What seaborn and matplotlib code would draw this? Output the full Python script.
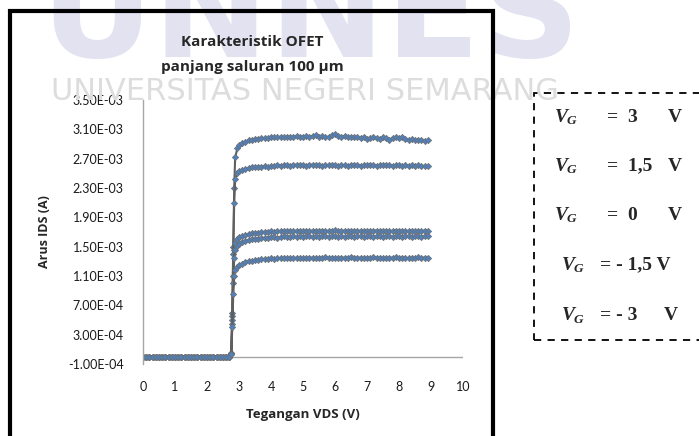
import numpy as np
import pandas as pd
import seaborn as sns
import matplotlib.pyplot as plt
from matplotlib.patches import Rectangle

# VDS grid (V)
x_off = [0.0, 0.1, 0.2, 0.3, 0.4, 0.5, 0.6, 0.7, 0.8, 0.9, 1.0, 1.1, 1.2, 1.3,
         1.4, 1.5, 1.6, 1.7, 1.8, 1.9, 2.0, 2.1, 2.2, 2.3, 2.4, 2.5, 2.6, 2.7]
x_rise = [2.76, 2.79, 2.82, 2.85, 2.88]
x_sat = [2.95, 3.0, 3.1, 3.2, 3.3, 3.4, 3.5, 3.6, 3.7, 3.8, 3.9,
         4.0, 4.1, 4.2, 4.3, 4.4, 4.5, 4.6, 4.7, 4.8, 4.9,
         5.0, 5.1, 5.2, 5.3, 5.4, 5.5, 5.6, 5.7, 5.8, 5.9,
         6.0, 6.1, 6.2, 6.3, 6.4, 6.5, 6.6, 6.7, 6.8, 6.9,
         7.0, 7.1, 7.2, 7.3, 7.4, 7.5, 7.6, 7.7, 7.8, 7.9,
         8.0, 8.1, 8.2, 8.3, 8.4, 8.5, 8.6, 8.7, 8.8, 8.9]

# IDS in mA
ids_off = [0.0] * len(x_off)

rise_vg3 = [0.05, 0.6, 1.5, 2.3, 2.72]
sat_vg3 = [2.84, 2.88, 2.91, 2.93, 2.95, 2.96, 2.97, 2.97, 2.98, 2.98, 2.98,
           2.99, 2.99, 2.99, 3.00, 2.99, 3.00, 3.00, 3.00, 3.01, 3.00,
           3.00, 3.01, 3.00, 3.01, 3.02, 3.00, 3.01, 2.99, 3.00, 3.02,
           3.03, 3.01, 3.00, 3.01, 3.00, 2.99, 3.00, 2.99, 2.98, 2.99,
           2.97, 2.98, 2.99, 2.98, 2.97, 2.99, 2.98, 2.96, 2.98, 2.99,
           2.98, 2.99, 2.97, 2.96, 2.97, 2.96, 2.95, 2.96, 2.94, 2.95]

rise_vg15 = [0.05, 0.55, 1.4, 2.1, 2.42]
sat_vg15 = [2.50, 2.53, 2.55, 2.56, 2.57, 2.58, 2.58, 2.59, 2.59, 2.60, 2.59,
            2.60, 2.60, 2.61, 2.60, 2.61, 2.61, 2.60, 2.61, 2.62, 2.61,
            2.61, 2.60, 2.61, 2.62, 2.61, 2.61, 2.60, 2.61, 2.61, 2.62,
            2.61, 2.60, 2.61, 2.61, 2.60, 2.61, 2.62, 2.61, 2.60, 2.61,
            2.61, 2.62, 2.61, 2.60, 2.61, 2.62, 2.61, 2.61, 2.60, 2.61,
            2.61, 2.60, 2.61, 2.60, 2.61, 2.60, 2.61, 2.60, 2.60, 2.60]

rise_vg0 = [0.04, 0.5, 1.1, 1.45, 1.55]
sat_vg0 = [1.60, 1.63, 1.65, 1.66, 1.67, 1.68, 1.69, 1.69, 1.70, 1.70, 1.70,
           1.71, 1.70, 1.71, 1.71, 1.71, 1.72, 1.71, 1.71, 1.72, 1.71,
           1.71, 1.72, 1.71, 1.72, 1.71, 1.71, 1.72, 1.72, 1.71, 1.72,
           1.73, 1.72, 1.71, 1.72, 1.71, 1.72, 1.72, 1.71, 1.72, 1.71,
           1.72, 1.71, 1.72, 1.72, 1.71, 1.72, 1.71, 1.72, 1.71, 1.72,
           1.72, 1.71, 1.72, 1.71, 1.72, 1.71, 1.72, 1.71, 1.72, 1.72]

rise_vgm15 = [0.04, 0.45, 1.0, 1.35, 1.46]
sat_vgm15 = [1.51, 1.54, 1.57, 1.58, 1.59, 1.60, 1.61, 1.61, 1.62, 1.62, 1.62,
             1.63, 1.63, 1.62, 1.63, 1.64, 1.63, 1.63, 1.64, 1.63, 1.64,
             1.63, 1.64, 1.64, 1.63, 1.64, 1.63, 1.64, 1.64, 1.63, 1.64,
             1.64, 1.63, 1.64, 1.63, 1.64, 1.64, 1.63, 1.64, 1.64, 1.63,
             1.64, 1.64, 1.63, 1.64, 1.64, 1.63, 1.64, 1.64, 1.63, 1.64,
             1.64, 1.63, 1.64, 1.64, 1.63, 1.64, 1.64, 1.63, 1.64, 1.64]

rise_vgm3 = [0.03, 0.4, 0.85, 1.1, 1.18]
sat_vgm3 = [1.22, 1.25, 1.27, 1.29, 1.30, 1.31, 1.32, 1.32, 1.33, 1.33, 1.33,
            1.34, 1.33, 1.34, 1.34, 1.34, 1.35, 1.34, 1.34, 1.35, 1.34,
            1.35, 1.34, 1.35, 1.35, 1.34, 1.35, 1.35, 1.36, 1.35, 1.35,
            1.35, 1.34, 1.35, 1.35, 1.35, 1.36, 1.35, 1.35, 1.35, 1.34,
            1.35, 1.35, 1.36, 1.35, 1.35, 1.35, 1.34, 1.35, 1.35, 1.36,
            1.35, 1.35, 1.35, 1.34, 1.35, 1.35, 1.36, 1.35, 1.35, 1.35]

curves = {
    '3': (rise_vg3, sat_vg3),
    '1,5': (rise_vg15, sat_vg15),
    '0': (rise_vg0, sat_vg0),
    '-1,5': (rise_vgm15, sat_vgm15),
    '-3': (rise_vgm3, sat_vgm3),
}

yticks = [-1.0e-4, 3.0e-4, 7.0e-4, 1.1e-3, 1.5e-3, 1.9e-3, 2.3e-3, 2.7e-3, 3.1e-3, 3.5e-3]
xticks = [0, 1, 2, 3, 4, 5, 6, 7, 8, 9, 10]

legend_rows = [('3', '=  3', 'V'), ('1,5', '=  1,5', 'V'), ('0', '=  0', 'V'),
               ('-1,5', '= - 1,5 V', ''), ('-3', '= - 3', 'V')]

vds = x_off + x_rise + x_sat
frames = []
for vg, (rise, sat) in curves.items():
    ids = ids_off + rise + sat
    frames.append(pd.DataFrame({'VDS': vds, 'IDS': np.array(ids) * 1e-3, 'VG': vg}))
df = pd.concat(frames, ignore_index=True)

sns.set_theme(style='white')
plt.rcParams['font.family'] = ['Lato', 'DejaVu Sans']
bold_font = ['Open Sans', 'DejaVu Sans']

W, H = 699, 436
fig = plt.figure(figsize=(W / 100, H / 100), dpi=100)

def fx(px):
    return px / W

def fy(py):
    return 1 - py / H

# faint watermark in the background
fig.text(fx(310), fy(57), 'UNNES', fontsize=100, fontweight='bold', color='#e2e2f1',
         ha='center', va='baseline', family='DejaVu Sans', zorder=0)
fig.text(fx(305), fy(100), 'UNIVERSITAS NEGERI SEMARANG', fontsize=22, color='#dddddd',
         ha='center', va='baseline', family='DejaVu Sans', zorder=0)

ax = fig.add_axes([fx(143), fy(364), fx(463) - fx(143), fy(100) - fy(364)])
ax.patch.set_alpha(0)

for vg in curves:
    sub = df[df['VG'] == vg]
    sns.lineplot(data=sub, x='VDS', y='IDS', ax=ax, color='#5f5f5f', linewidth=1.5,
                 marker='D', markersize=3.2, markerfacecolor='#4f81bd',
                 markeredgecolor='#6d6d6d', markeredgewidth=0.5, sort=False, legend=False)

ax.axhline(0, xmin=0, xmax=1, color='#a6a6a6', linewidth=1, zorder=0)
ax.set_xlim(0, 10)
ax.set_ylim(-1.0e-4, 3.5e-3)
ax.set_xticks(xticks)
ax.set_yticks(yticks)
ax.set_yticklabels(['%.2E' % v for v in yticks])
ax.tick_params(length=0, labelsize=9, colors='#1a1a1a')
ax.tick_params(axis='x', pad=12)
ax.tick_params(axis='y', pad=14)
for s in ['top', 'right', 'bottom']:
    ax.spines[s].set_visible(False)
ax.spines['left'].set_color('#a6a6a6')
ax.spines['left'].set_linewidth(1)
ax.set_xlabel('Tegangan VDS (V)', fontsize=9.5, fontweight='bold', labelpad=11,
              family=bold_font)
ax.set_ylabel('Arus IDS (A)', fontsize=9, fontweight='bold', labelpad=12,
              family=bold_font)

fig.text(fx(252), fy(42), 'Karakteristik OFET', fontsize=11, fontweight='bold',
         ha='center', va='center', family=bold_font)
fig.text(fx(252), fy(67), 'panjang saluran 100 µm', fontsize=11, fontweight='bold',
         ha='center', va='center', family=bold_font)

# outer chart frame
fig.patches.append(Rectangle((fx(10), -0.1), fx(493) - fx(10), fy(11) + 0.1,
                             transform=fig.transFigure, fill=False, edgecolor='black',
                             linewidth=3, zorder=5))

# legend box with V_G values
fig.patches.append(Rectangle((fx(534), fy(340)), fx(760) - fx(534), fy(93) - fy(340),
                             transform=fig.transFigure, fill=False, edgecolor='black',
                             linewidth=1.3, linestyle=(0, (4, 3.5)), zorder=5))
serif = 'Liberation Serif'
rows_y = [117, 166, 215, 265, 316]
for (vg, eq, unit), py in zip(legend_rows, rows_y):
    neg = vg.startswith('-')
    xv = 562 if neg else 555
    xe = 600 if neg else 607
    fig.text(fx(xv), fy(py), 'V', family=serif, style='italic', fontweight='bold',
             fontsize=14, va='center', ha='left')
    fig.text(fx(xv + 12), fy(py + 4), 'G', family=serif, style='italic', fontweight='bold',
             fontsize=9.5, va='center', ha='left')
    fig.text(fx(xe), fy(py), eq, family=serif, fontweight='bold', fontsize=14,
             va='center', ha='left')
    if unit:
        fig.text(fx(668 if not neg else 664), fy(py), unit, family=serif,
                 fontweight='bold', fontsize=14, va='center', ha='left')

fig.savefig('out.png', dpi=100)
